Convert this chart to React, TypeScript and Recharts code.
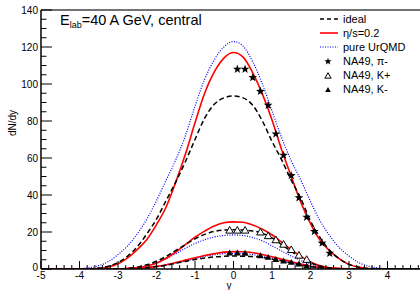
import React from 'react';
import { ComposedChart, Line, Scatter, XAxis, YAxis, ReferenceLine } from 'recharts';

// rapidity grid for the model curves
const curveY = [-5, -4, -3.75, -3.5, -3.25, -3, -2.75, -2.5, -2.25, -2, -1.75, -1.5, -1.25, -1, -0.75, -0.5, -0.25, 0,
  0.25, 0.5, 0.75, 1, 1.25, 1.5, 1.75, 2, 2.25, 2.5, 2.75, 3, 3.25, 3.5, 3.75, 4, 5];

// pi- curves
const piIdeal = [0, 0, 0.1, 0.5, 1.5, 3.5, 7, 12, 19, 27, 37, 47, 58, 70, 81.5, 89, 92.5, 93.5,
  92.5, 88.5, 80, 69, 59, 48, 38, 26, 17, 10, 5.5, 2.5, 1, 0.3, 0.1, 0, 0];
const piVisc = [0, 0, 0.1, 0.3, 1.1, 2.8, 6, 10.5, 16, 24, 33.5, 47, 62, 79, 95, 106.5, 114, 117,
  114.5, 106, 94.5, 80.5, 64.5, 50, 36, 24.5, 15.5, 9.8, 5.5, 2.5, 1, 0.3, 0.1, 0, 0];
const piUrqmd = [0, 0.2, 0.7, 1.8, 4, 7.8, 12.5, 19, 27, 37, 48, 59, 72, 88, 102.5, 113, 120, 123,
  120.5, 112, 100, 85.5, 71, 58.5, 48, 36.5, 26, 18, 11.5, 7, 3.5, 1.6, 0.6, 0.2, 0];

// K+ curves
const kpIdeal = [0, 0, 0, 0, 0, 0.1, 0.4, 1, 2.3, 4.2, 6.8, 10, 13.2, 16.3, 18.7, 20.3, 21, 21.2,
  21, 20.6, 19.3, 16.8, 13.2, 9.5, 6.2, 3.3, 1.6, 0.6, 0.2, 0.1, 0, 0, 0, 0, 0];
const kpVisc = [0, 0, 0, 0, 0.05, 0.1, 0.3, 0.7, 1.6, 3.1, 5.8, 9.2, 13.2, 17.2, 20.5, 23.3, 25, 25.5,
  25.3, 23.8, 21.5, 18.5, 14.5, 10.5, 6.8, 3.8, 1.8, 0.7, 0.3, 0.1, 0.05, 0, 0, 0, 0];
const kpUrqmd = [0, 0, 0, 0, 0, 0.1, 0.3, 0.8, 1.7, 3.4, 5.6, 8.3, 11.2, 13.8, 15.8, 17.3, 18.1, 18.4,
  18.1, 17, 15.2, 12.5, 9.7, 7, 4.6, 2.5, 1.2, 0.5, 0.2, 0.1, 0, 0, 0, 0, 0];

// K- curves
const kmIdeal = [0, 0, 0, 0, 0, 0.05, 0.1, 0.3, 0.7, 1.3, 2.1, 3.1, 4.1, 5.1, 5.9, 6.5, 6.9, 7,
  6.9, 6.7, 6.2, 5.4, 4.4, 3.3, 2.2, 1.3, 0.7, 0.3, 0.1, 0.05, 0, 0, 0, 0, 0];
const kmVisc = [0, 0, 0, 0, 0, 0.1, 0.2, 0.4, 0.8, 1.4, 2.3, 3.5, 4.8, 6.1, 7.3, 8.3, 9.1, 9.4,
  9.3, 8.8, 7.8, 6.6, 5.3, 4, 2.7, 1.5, 0.8, 0.4, 0.2, 0.1, 0, 0, 0, 0, 0];
const kmUrqmd = [0, 0, 0, 0, 0, 0.05, 0.1, 0.3, 0.6, 1.1, 2, 3.1, 4.3, 5.6, 6.8, 7.7, 8.3, 8.5,
  8.3, 7.8, 6.9, 5.8, 4.5, 3.2, 2.1, 1.2, 0.6, 0.3, 0.1, 0.05, 0, 0, 0, 0, 0];

// NA49 data
const piDataY = [0.1, 0.3, 0.5, 0.7, 0.9, 1.1, 1.3, 1.5, 1.7, 1.9, 2.1, 2.3, 2.5];
const piDataV = [108, 108, 103.5, 96, 88.5, 73, 61.5, 50.5, 38.5, 28, 20.3, 14, 8.5];
const kpDataY = [-0.1, 0.1, 0.3, 0.7, 0.9, 1.1, 1.3, 1.5, 1.7, 1.9];
const kpDataV = [20.8, 20.8, 20.8, 19.8, 17.8, 15.6, 13.2, 10.3, 7.3, 5];
const kmDataY = [-0.1, 0.1, 0.3, 0.7, 0.9, 1.1, 1.3, 1.5, 1.7, 1.9];
const kmDataV = [8.6, 8.6, 8.4, 7.1, 6.2, 5.1, 4.3, 3.5, 2.6, 1.6];

// ticks
const xMajor = [-5, -4, -3, -2, -1, 0, 1, 2, 3, 4, 5];
const yMajor = [0, 20, 40, 60, 80, 100, 120, 140];
const xTicks = Array.from({ length: 51 }, (_, i) => Math.round((-5 + i * 0.2) * 10) / 10);
const yTicks = Array.from({ length: 29 }, (_, i) => i * 5);

const FONT = 'Liberation Sans, Arial, Helvetica, sans-serif';

const curve = (vals: number[]) => curveY.map((x, i) => ({ x, v: vals[i] }));
const pts = (xs: number[], vs: number[]) => xs.map((x, i) => ({ x, v: vs[i] }));

const XTick = (props: any) => {
  const { x, y, payload } = props;
  const v = payload.value;
  const major = xMajor.some((m) => Math.abs(m - v) < 1e-6);
  return (
    <g>
      <line x1={x} x2={x} y1={y} y2={y - (major ? 8 : 4)} stroke="#000" strokeWidth={1} />
      {major && v < 5 && (
        <text x={x} y={y + 2.5} dy="0.71em" textAnchor="middle" fontSize={10} fontFamily={FONT} fill="#000">
          {String(v)}
        </text>
      )}
    </g>
  );
};

const YTick = (props: any) => {
  const { x, y, payload } = props;
  const v = payload.value;
  const major = yMajor.includes(v);
  return (
    <g>
      <line x1={x} x2={x + (major ? 11 : 5.5)} y1={y} y2={y} stroke="#000" strokeWidth={1} />
      {major && (
        <text x={x - 3} y={v === 0 ? y - 2 : y} dy="0.35em" textAnchor="end" fontSize={10} fontFamily={FONT} fill="#000">
          {String(v)}
        </text>
      )}
    </g>
  );
};

const starPath = (cx: number, cy: number, R: number, r: number) => {
  let d = '';
  for (let i = 0; i < 10; i++) {
    const a = -Math.PI / 2 + (i * Math.PI) / 5;
    const rr = i % 2 === 0 ? R : r;
    d += (i === 0 ? 'M' : 'L') + (cx + rr * Math.cos(a)).toFixed(2) + ',' + (cy + rr * Math.sin(a)).toFixed(2);
  }
  return d + 'Z';
};
const triPath = (cx: number, cy: number, s: number) =>
  `M${cx},${cy - s}L${cx + s * 0.95},${cy + s * 0.65}L${cx - s * 0.95},${cy + s * 0.65}Z`;

const StarShape = (p: any) => <path d={starPath(p.cx, p.cy, 4.6, 1.9)} fill="#000" />;
const OpenTri = (p: any) => <path d={triPath(p.cx, p.cy, 4)} fill="#fff" stroke="#000" strokeWidth={1} />;
const FullTri = (p: any) => <path d={triPath(p.cx, p.cy, 3.6)} fill="#000" />;

const lineCommon = { type: 'monotone' as const, dataKey: 'v', dot: false, activeDot: false, isAnimationActive: false };

export default function App() {
  return (
    <div style={{ position: 'absolute', left: 0, top: 0, width: 420, height: 290, overflow: 'hidden', background: '#fff' }}>
      <ComposedChart width={430} height={290} margin={{ top: 10, right: 4, bottom: 0, left: 0 }}>
        <XAxis
          dataKey="x"
          type="number"
          domain={[-5, 5]}
          allowDataOverflow
          ticks={xTicks}
          interval={0}
          tickSize={0}
          tickMargin={0}
          tickLine={false}
          tick={(p: any) => <XTick {...p} />}
          height={21}
          axisLine={{ stroke: '#000', strokeWidth: 1.5 }}
        />
        <YAxis
          type="number"
          domain={[0, 140]}
          allowDataOverflow
          ticks={yTicks}
          interval={0}
          tickSize={0}
          tickMargin={0}
          tickLine={false}
          tick={(p: any) => <YTick {...p} />}
          width={41}
          axisLine={{ stroke: '#000', strokeWidth: 1.5 }}
        />
        <ReferenceLine y={140} stroke="#444" strokeWidth={1.5} />

        <Line {...lineCommon} data={curve(piUrqmd)} stroke="#0000ff" strokeWidth={1.2} strokeDasharray="1 1.5" />
        <Line {...lineCommon} data={curve(kpUrqmd)} stroke="#0000ff" strokeWidth={1.2} strokeDasharray="1 1.5" />
        <Line {...lineCommon} data={curve(kmUrqmd)} stroke="#0000ff" strokeWidth={1.2} strokeDasharray="1 1.5" />
        <Line {...lineCommon} data={curve(piVisc)} stroke="#ff0000" strokeWidth={1.6} />
        <Line {...lineCommon} data={curve(kpVisc)} stroke="#ff0000" strokeWidth={1.6} />
        <Line {...lineCommon} data={curve(kmVisc)} stroke="#ff0000" strokeWidth={1.6} />
        <Line {...lineCommon} data={curve(piIdeal)} stroke="#000" strokeWidth={1.5} strokeDasharray="5 3" />
        <Line {...lineCommon} data={curve(kpIdeal)} stroke="#000" strokeWidth={1.5} strokeDasharray="5 3" />
        <Line {...lineCommon} data={curve(kmIdeal)} stroke="#000" strokeWidth={1.5} strokeDasharray="5 3" />

        <Scatter data={pts(piDataY, piDataV)} dataKey="v" shape={StarShape} isAnimationActive={false} />
        <Scatter data={pts(kpDataY, kpDataV)} dataKey="v" shape={OpenTri} isAnimationActive={false} />
        <Scatter data={pts(kmDataY, kmDataV)} dataKey="v" shape={FullTri} isAnimationActive={false} />
      </ComposedChart>

      <svg width={420} height={290} style={{ position: 'absolute', left: 0, top: 0, pointerEvents: 'none' }}>
        <g fontFamily={FONT} fill="#000">
          <text x={60} y={25} fontSize={14.5}>
            E<tspan fontSize={9} dy={3}>lab</tspan>
            <tspan dy={-3}>=40 A GeV, central</tspan>
          </text>
          <text x={12} y={123} fontSize={10} textAnchor="middle" transform="rotate(-90 12 123)" dy="0.35em">dN/dy</text>
          <text x={229} y={289} fontSize={10} textAnchor="middle">y</text>

          <line x1={320} x2={338} y1={19} y2={19} stroke="#000" strokeWidth={1.5} strokeDasharray="4 3" />
          <text x={343} y={19} dy="0.35em" fontSize={11}>ideal</text>
          <line x1={320} x2={338} y1={33} y2={33} stroke="#ff0000" strokeWidth={1.6} />
          <text x={343} y={33} dy="0.35em" fontSize={11}>η/s=0.2</text>
          <line x1={320} x2={338} y1={47} y2={47} stroke="#0000ff" strokeWidth={1.2} strokeDasharray="1 1.5" />
          <text x={343} y={47} dy="0.35em" fontSize={11}>pure UrQMD</text>
          <path d={starPath(328, 61.5, 3.8, 1.6)} fill="#000" />
          <text x={343} y={61.5} dy="0.35em" fontSize={11}>NA49, π-</text>
          <path d={triPath(328, 76, 3.3)} fill="#fff" stroke="#000" strokeWidth={1} />
          <text x={343} y={75.5} dy="0.35em" fontSize={11}>NA49, K+</text>
          <path d={triPath(328, 90, 3)} fill="#000" />
          <text x={343} y={89.5} dy="0.35em" fontSize={11}>NA49, K-</text>
        </g>
      </svg>
    </div>
  );
}
